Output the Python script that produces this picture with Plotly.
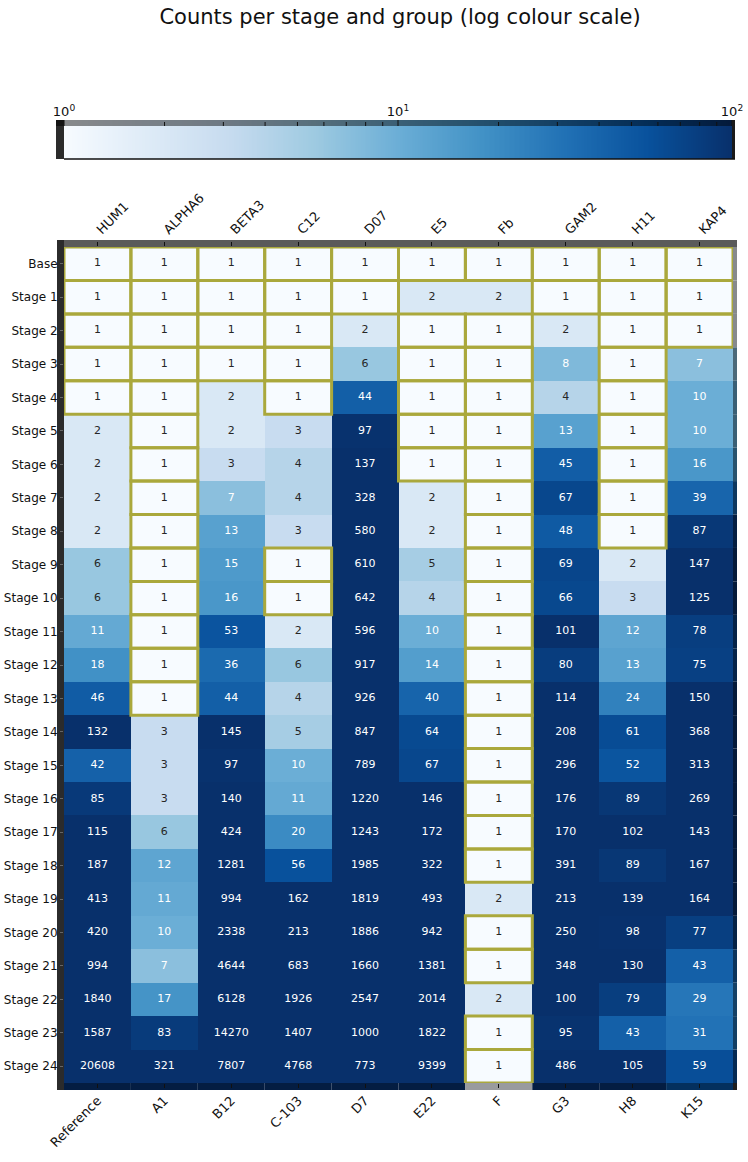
import numpy as np
import plotly.graph_objects as go
from plotly.colors import sample_colorscale

# ---------------- data ----------------
title_text = "Counts per stage and group (log colour scale)"
top_labels = ["HUM1", "ALPHA6", "BETA3", "C12", "D07", "E5", "Fb", "GAM2", "H11", "KAP4"]
bottom_labels = ["Reference", "A1", "B12", "C-103", "D7", "E22", "F", "G3", "H8", "K15"]
row_labels = ["Base"] + [f"Stage {i}" for i in range(1, 25)]

values = [
    [1, 1, 1, 1, 1, 1, 1, 1, 1, 1],
    [1, 1, 1, 1, 1, 2, 2, 1, 1, 1],
    [1, 1, 1, 1, 2, 1, 1, 2, 1, 1],
    [1, 1, 1, 1, 6, 1, 1, 8, 1, 7],
    [1, 1, 2, 1, 44, 1, 1, 4, 1, 10],
    [2, 1, 2, 3, 97, 1, 1, 13, 1, 10],
    [2, 1, 3, 4, 137, 1, 1, 45, 1, 16],
    [2, 1, 7, 4, 328, 2, 1, 67, 1, 39],
    [2, 1, 13, 3, 580, 2, 1, 48, 1, 87],
    [6, 1, 15, 1, 610, 5, 1, 69, 2, 147],
    [6, 1, 16, 1, 642, 4, 1, 66, 3, 125],
    [11, 1, 53, 2, 596, 10, 1, 101, 12, 78],
    [18, 1, 36, 6, 917, 14, 1, 80, 13, 75],
    [46, 1, 44, 4, 926, 40, 1, 114, 24, 150],
    [132, 3, 145, 5, 847, 64, 1, 208, 61, 368],
    [42, 3, 97, 10, 789, 67, 1, 296, 52, 313],
    [85, 3, 140, 11, 1220, 146, 1, 176, 89, 269],
    [115, 6, 424, 20, 1243, 172, 1, 170, 102, 143],
    [187, 12, 1281, 56, 1985, 322, 1, 391, 89, 167],
    [413, 11, 994, 162, 1819, 493, 2, 213, 139, 164],
    [420, 10, 2338, 213, 1886, 942, 1, 250, 98, 77],
    [994, 7, 4644, 683, 1660, 1381, 1, 348, 130, 43],
    [1840, 17, 6128, 1926, 2547, 2014, 2, 100, 79, 29],
    [1587, 83, 14270, 1407, 1000, 1822, 1, 95, 43, 31],
    [20608, 321, 7807, 4768, 773, 9399, 1, 486, 105, 59],
]
color_min, color_max = 1, 100
cbar_major = [1, 10, 100]

# ---------------- layout helpers ----------------
W, H = 748, 1162
def fx(p):
    return p / W
def fy(p):
    return 1 - p / H

BLUES = [[0.0, "rgb(247,251,255)"], [0.125, "rgb(222,235,247)"], [0.25, "rgb(198,219,239)"],
         [0.375, "rgb(158,202,225)"], [0.5, "rgb(107,174,214)"], [0.625, "rgb(66,146,198)"],
         [0.75, "rgb(33,113,181)"], [0.875, "rgb(8,81,156)"], [1.0, "rgb(8,48,107)"]]
FONT = "DejaVu Sans"
OLIVE = "#aaa83c"

V = np.array(values, dtype=float)
nrows, ncols = V.shape
lo, hi = np.log10(color_min), np.log10(color_max)
Z = np.clip(np.log10(V), lo, hi)

def cell_rgb(v):
    t = (np.clip(np.log10(v), lo, hi) - lo) / (hi - lo)
    s = sample_colorscale(BLUES, [t])[0]
    return [float(c) for c in s[s.index("(") + 1:-1].split(",")]

def lum(rgb):
    out = []
    for c in rgb:
        c = c / 255
        out.append(c / 12.92 if c <= 0.03928 else ((c + 0.055) / 1.055) ** 2.4)
    return 0.2126 * out[0] + 0.7152 * out[1] + 0.0722 * out[2]

def dark(rgb, f):
    return "rgb(%d,%d,%d)" % tuple(int(c * f) for c in rgb)

fig = go.Figure()

# main heatmap
fig.add_trace(go.Heatmap(
    z=Z, x=list(range(ncols)), y=list(range(nrows)),
    colorscale=BLUES, zmin=lo, zmax=hi, showscale=False,
    xaxis="x", yaxis="y", hoverinfo="skip"))

# cell annotations
xs, ys, txt, cols = [], [], [], []
for r in range(nrows):
    for c in range(ncols):
        xs.append(c); ys.append(r); txt.append(str(values[r][c]))
        cols.append("#ffffff" if lum(cell_rgb(values[r][c])) < 0.5 else "#262626")
fig.add_trace(go.Scatter(x=xs, y=ys, text=txt, mode="text",
                         textfont=dict(family=FONT, size=11, color=cols),
                         xaxis="x", yaxis="y", hoverinfo="skip", showlegend=False))

# dummy trace for bottom label axis
fig.add_trace(go.Scatter(x=[0], y=[0], mode="markers", marker=dict(opacity=0),
                         xaxis="x3", yaxis="y", hoverinfo="skip", showlegend=False))

# colorbar gradient
grad = np.linspace(lo, hi, 400)
fig.add_trace(go.Heatmap(z=[grad], x=grad, y=[0.5], colorscale=BLUES, zmin=lo, zmax=hi,
                         showscale=False, xaxis="x2", yaxis="y2", hoverinfo="skip"))

shapes = []
# olive borders around cells equal to 1
for r in range(nrows):
    for c in range(ncols):
        if values[r][c] == 1:
            shapes.append(dict(type="rect", xref="x", yref="y", x0=c - 0.5, x1=c + 0.5,
                               y0=r - 0.5, y1=r + 0.5, line=dict(color=OLIVE, width=3),
                               fillcolor="rgba(0,0,0,0)", layer="above"))

# heatmap frame bars
x_left, x_right, y_top, y_bot = 64, 733, 247, 1083
shapes.append(dict(type="rect", xref="paper", yref="paper", x0=fx(57), x1=fx(x_left),
                   y0=fy(1090), y1=fy(240), fillcolor="#2b2b2b", line_width=0, layer="below"))
shapes.append(dict(type="rect", xref="paper", yref="paper", x0=fx(x_left), x1=fx(737),
                   y0=fy(y_top), y1=fy(240), fillcolor="#5a5a5a", line_width=0, layer="below"))
for c in range(ncols):
    shapes.append(dict(type="rect", xref="x", yref="paper", x0=c - 0.5, x1=c + 0.5,
                       y0=fy(1090), y1=fy(y_bot), line_width=0, layer="below",
                       fillcolor=dark(cell_rgb(values[-1][c]), 0.62)))
for r in range(nrows):
    shapes.append(dict(type="rect", xref="paper", yref="y", x0=fx(x_right), x1=fx(737),
                       y0=r - 0.5, y1=r + 0.5, line_width=0, layer="below",
                       fillcolor=dark(cell_rgb(values[r][-1]), 0.55)))
shapes.append(dict(type="rect", xref="paper", yref="paper", x0=fx(x_right), x1=fx(737),
                   y0=fy(1090), y1=fy(y_bot), fillcolor="#1e1e1e", line_width=0, layer="below"))

# colorbar decorations
cb_top, cb_strip, cb_bot = 120, 126, 159
shapes.append(dict(type="rect", xref="paper", yref="paper", x0=fx(x_left), x1=fx(732),
                   y0=fy(cb_strip), y1=fy(cb_top), fillcolor="rgba(0,0,0,0.45)", line_width=0))
shapes.append(dict(type="rect", xref="paper", yref="paper", x0=fx(56), x1=fx(x_left),
                   y0=fy(cb_bot), y1=fy(cb_top), fillcolor="#2b2b2b", line_width=0))
shapes.append(dict(type="rect", xref="paper", yref="paper", x0=fx(56), x1=fx(x_left),
                   y0=fy(cb_strip), y1=fy(cb_top), fillcolor="#141414", line_width=0))
shapes.append(dict(type="rect", xref="paper", yref="paper", x0=fx(732), x1=fx(735),
                   y0=fy(cb_bot), y1=fy(cb_top), fillcolor="#1a1a1a", line_width=0))
shapes.append(dict(type="line", xref="paper", yref="paper", x0=fx(x_left), x1=fx(735),
                   y0=fy(cb_bot), y1=fy(cb_bot), line=dict(color="#111111", width=1.5)))
for d in range(int(lo), int(hi) + 1):
    for m in range(1, 10):
        v = m * 10 ** d
        if v > color_max:
            break
        lv = np.log10(v)
        major = m == 1
        shapes.append(dict(type="line", xref="x2", yref="paper", x0=lv, x1=lv,
                           y0=fy(cb_strip), y1=fy(cb_top + (0 if major else 2)),
                           line=dict(color="#111111", width=1)))

fig.update_layout(
    width=W, height=H, margin=dict(l=0, r=0, t=0, b=0, autoexpand=False),
    paper_bgcolor="white", plot_bgcolor="white", showlegend=False,
    font=dict(family=FONT, size=13, color="#111111"),
    title=dict(text=title_text, x=fx(400), xanchor="center", y=fy(17), yanchor="middle",
               font=dict(family=FONT, size=21, color="#111111")),
    xaxis=dict(domain=[fx(x_left), fx(x_right)], range=[-0.5, ncols - 0.5], side="top",
               tickmode="array", tickvals=list(range(ncols)), ticktext=top_labels,
               tickangle=-45, ticks="outside", ticklen=4, tickcolor="#111111",
               showgrid=False, zeroline=False, showline=False, anchor="y", automargin=False,
               tickfont=dict(family=FONT, size=13, color="#111111")),
    xaxis3=dict(overlaying="x", range=[-0.5, ncols - 0.5], side="bottom", anchor="y",
                tickmode="array", tickvals=list(range(ncols)), ticktext=bottom_labels,
                tickangle=-45, ticks="outside", ticklen=4, tickcolor="#111111",
                showgrid=False, zeroline=False, showline=False, automargin=False,
                tickfont=dict(family=FONT, size=13, color="#111111")),
    yaxis=dict(domain=[fy(y_bot), fy(y_top)], range=[nrows - 0.5, -0.5],
               tickmode="array", tickvals=list(range(nrows)), ticktext=row_labels,
               ticks="outside", ticklen=3, tickcolor="#666666", automargin=False,
               showgrid=False, zeroline=False, showline=False, anchor="x",
               tickfont=dict(family=FONT, size=12, color="#111111")),
    xaxis2=dict(domain=[fx(x_left), fx(732)], range=[lo, hi], side="top", anchor="y2",
                tickmode="array", tickvals=[np.log10(v) for v in cbar_major],
                ticktext=["10<sup>%d</sup>" % round(np.log10(v)) for v in cbar_major],
                ticks="", showgrid=False, zeroline=False, showline=False, automargin=False,
                tickfont=dict(family=FONT, size=13, color="#111111")),
    yaxis2=dict(domain=[fy(cb_bot), fy(cb_top)], range=[0, 1], anchor="x2", automargin=False,
                showticklabels=False, ticks="", showgrid=False, zeroline=False),
    shapes=shapes,
)

fig.write_html("out.html")
